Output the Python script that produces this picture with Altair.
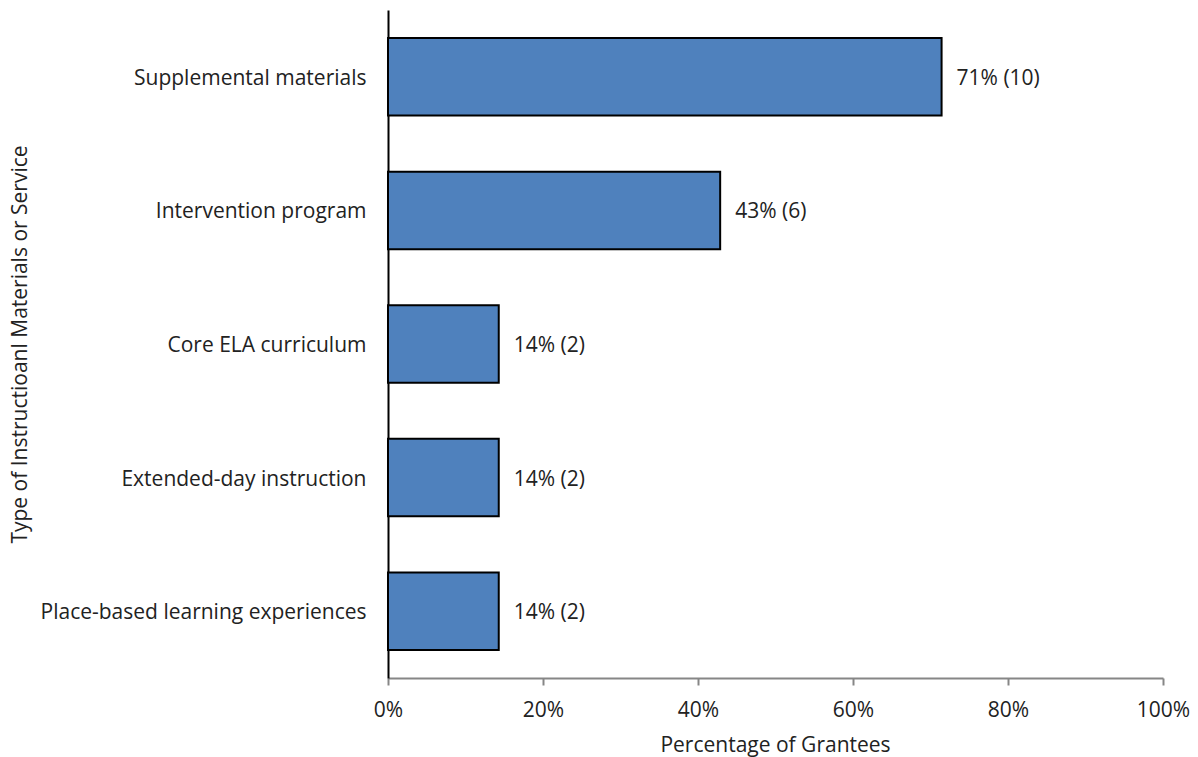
import altair as alt
import pandas as pd

categories = [
    "Supplemental materials",
    "Intervention program",
    "Core ELA curriculum",
    "Extended-day instruction",
    "Place-based learning experiences",
]
percents = [71.43, 42.86, 14.29, 14.29, 14.29]
counts = [10, 6, 2, 2, 2]
labels = ["71% (10)", "43% (6)", "14% (2)", "14% (2)", "14% (2)"]

df = pd.DataFrame({"cat": categories, "pct": percents, "n": counts, "label": labels})

FONT = "Open Sans"
FS = 21

base = alt.Chart(df)

bars = base.mark_bar(color="#4F81BD", stroke="black", strokeWidth=2).encode(
    x=alt.X(
        "pct:Q",
        scale=alt.Scale(domain=[0, 100], nice=False),
        axis=alt.Axis(
            values=[0, 20, 40, 60, 80, 100],
            labelExpr="datum.value + '%'",
            labelFlush=False,
            title="Percentage of Grantees",
            grid=False,
            domainColor="#868686",
            domainWidth=2,
            tickColor="#868686",
            tickWidth=2,
            tickSize=7,
            labelPadding=14,
            labelFontSize=FS,
            labelColor="#222222",
            labelFont=FONT,
            titleFont=FONT,
            titleFontSize=FS,
            titleFontWeight="normal",
            titleColor="#222222",
            titleX=387,
            titleY=67,
            titleBaseline="middle",
            titleAlign="center",
        ),
    ),
    y=alt.Y(
        "cat:N",
        sort=categories,
        scale=alt.Scale(paddingInner=0.42, paddingOuter=0.21),
        axis=alt.Axis(
            title="Type of Instructioanl Materials or Service",
            domainColor="black",
            domainWidth=2,
            ticks=False,
            labelPadding=22,
            labelOffset=2,
            labelFontSize=FS,
            labelColor="#222222",
            labelFont=FONT,
            labelLimit=400,
            titleFont=FONT,
            titleFontSize=FS,
            titleFontWeight="normal",
            titleColor="#222222",
            titleX=-368,
            titleY=334,
            titleAngle=-90,
            titleBaseline="middle",
            titleAlign="center",
        ),
    ),
)

text = base.mark_text(align="left", baseline="middle", dx=15, dy=2, fontSize=FS, font=FONT, color="#222222").encode(
    x="pct:Q",
    y=alt.Y("cat:N", sort=categories),
    text="label:N",
)

chart = (
    alt.layer(bars, text)
    .properties(
        width=775,
        height=668,
        autosize=alt.AutoSizeParams(type="none"),
        padding={"left": 388, "top": 10, "right": 35, "bottom": 79},
        view=alt.ViewBackground(stroke="transparent", strokeWidth=0),
    )
    .configure_view(strokeWidth=0, stroke="transparent")
    .configure(background="white")
)

chart.save("out.html", embed_options={"renderer": "svg", "actions": False})
